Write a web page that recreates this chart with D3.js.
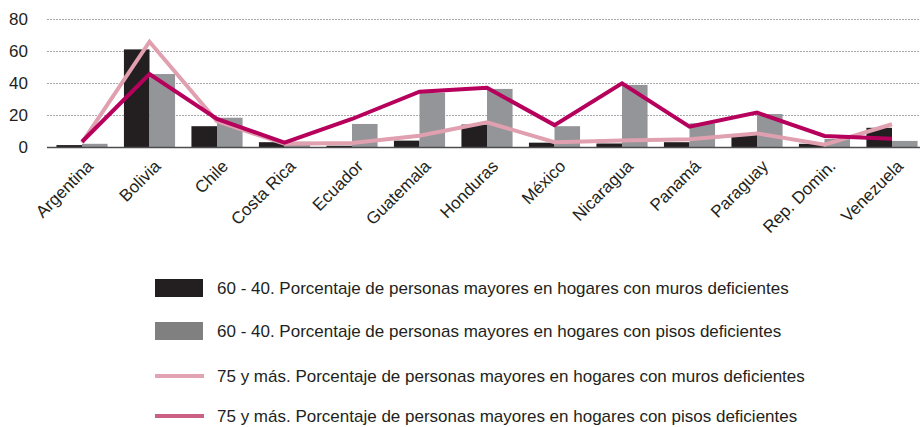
<!DOCTYPE html>
<html>
<head>
<meta charset="utf-8">
<script src="https://cdn.jsdelivr.net/npm/d3@7"></script>
<style>
  body { margin: 0; background: #fff; }
  text { font-family: "Liberation Sans", Arial, sans-serif; fill: #231f20; }
</style>
</head>
<body>
<div id="chart"></div>
<script>
(function() {

    const countries = ["Argentina", "Bolivia", "Chile", "Costa Rica", "Ecuador", "Guatemala",
        "Honduras", "México", "Nicaragua", "Panamá", "Paraguay", "Rep. Domin.", "Venezuela"];

    const muros6040 = [1.2, 61, 13, 3, 0.8, 4, 14, 2.7, 2.2, 3, 7.5, 2, 12];
    const pisos6040 = [2, 45.6, 18.3, 3.3, 14.4, 34, 36.3, 13, 38.8, 14.8, 20.6, 5, 3.8];
    const muros75 = [2.7, 65.8, 16, 2, 2.5, 7, 15.4, 3, 4, 4.8, 8.5, 1.5, 14.2];
    const pisos75 = [3.3, 45.6, 17.5, 2.7, 17.5, 34.6, 37, 13.7, 39.8, 12.7, 21.5, 6.9, 5.2];

    const yTicks = [0, 20, 40, 60, 80];

    const legendLabels = [
        "60 - 40. Porcentaje de personas mayores en hogares con muros deficientes",
        "60 - 40. Porcentaje de personas mayores en hogares con pisos deficientes",
        "75 y más. Porcentaje de personas mayores en hogares con muros deficientes",
        "75 y más. Porcentaje de personas mayores en hogares con pisos deficientes"
    ];

    const colors = {black: "#231f20", gray: "#939598", pink: "#e0a0b0", magenta: "#b6005c"};

    const width = 920;
    const height = 427;
    const margin = {top: 19, left: 47, right: 0};
    const baseY = 147;

    const svg = d3.select("#chart").append("svg")
        .attr("width", width)
        .attr("height", height);

    const x = d3.scaleBand()
        .domain(countries)
        .range([48.25, 925.75])
        .padding(0);

    const x1 = d3.scaleBand()
        .domain(["muros", "pisos"])
        .range([0, x.bandwidth()])
        .paddingOuter(0.32)
        .paddingInner(0);

    const y = d3.scaleLinear()
        .domain([0, 80])
        .range([baseY, margin.top]);

    // grid lines (dotted)
    svg.append("g")
        .selectAll("line")
        .data(yTicks.filter(d => d > 0))
        .join("line")
        .attr("x1", margin.left)
        .attr("x2", 920)
        .attr("y1", d => y(d) + 0.5)
        .attr("y2", d => y(d) + 0.5)
        .attr("stroke", "#a7a9ac")
        .attr("stroke-width", 1)
        .attr("stroke-dasharray", "2,1");

    // y labels
    svg.append("g")
        .selectAll("text")
        .data(yTicks)
        .join("text")
        .attr("x", 28)
        .attr("y", d => y(d))
        .attr("dy", "0.35em")
        .attr("text-anchor", "end")
        .attr("font-size", "17px")
        .text(d => d);

    const rows = countries.map((c, i) => ({c, muros: muros6040[i], pisos: pisos6040[i]}));

    // bars
    const groups = svg.append("g")
        .selectAll("g")
        .data(rows)
        .join("g")
        .attr("transform", d => `translate(${x(d.c)},0)`);

    groups.append("rect")
        .attr("x", x1("muros"))
        .attr("y", d => y(d.muros))
        .attr("width", x1.bandwidth())
        .attr("height", d => y(0) - y(d.muros))
        .attr("fill", colors.black);

    groups.append("rect")
        .attr("x", x1("pisos"))
        .attr("y", d => y(d.pisos))
        .attr("width", x1.bandwidth())
        .attr("height", d => y(0) - y(d.pisos))
        .attr("fill", colors.gray);

    // baseline
    svg.append("line")
        .attr("x1", margin.left)
        .attr("x2", 920)
        .attr("y1", baseY + 0.5)
        .attr("y2", baseY + 0.5)
        .attr("stroke", "#4d4d4f")
        .attr("stroke-width", 1.5);

    // lines
    const line = d3.line()
        .x((d, i) => x(countries[i]) + x.bandwidth() / 2)
        .y(d => y(d));

    svg.append("path")
        .datum(muros75)
        .attr("d", line)
        .attr("fill", "none")
        .attr("stroke", colors.pink)
        .attr("stroke-width", 4);

    svg.append("path")
        .datum(pisos75)
        .attr("d", line)
        .attr("fill", "none")
        .attr("stroke", colors.magenta)
        .attr("stroke-width", 4);

    // x labels rotated
    svg.append("g")
        .selectAll("text")
        .data(countries)
        .join("text")
        .attr("transform", d => `translate(${x(d) + x.bandwidth() / 2 + 8},${baseY + 16}) rotate(-45)`)
        .attr("text-anchor", "end")
        .attr("dy", "0.35em")
        .attr("font-size", "17px")
        .text(d => d);

    // legend
    const legendY = [288, 331, 376, 416];
    const legend = svg.append("g")
        .selectAll("g")
        .data(legendLabels)
        .join("g")
        .attr("transform", (d, i) => `translate(155,${legendY[i]})`);

    legend.each(function(d, i) {
        const g = d3.select(this);
        if (i < 2) {
            g.append("rect")
                .attr("x", 0)
                .attr("y", -9)
                .attr("width", 48)
                .attr("height", 18)
                .attr("fill", i === 0 ? colors.black : "#808080");
        } else {
            g.append("line")
                .attr("x1", 0)
                .attr("x2", 49)
                .attr("y1", 0)
                .attr("y2", 0)
                .attr("stroke", i === 2 ? "#e3a3b3" : "#cc5f85")
                .attr("stroke-width", 4);
        }
        g.append("text")
            .attr("x", 62)
            .attr("y", 0)
            .attr("dy", "0.35em")
            .attr("font-size", "17px")
            .text(d);
    });

})();
</script>
</body>
</html>
